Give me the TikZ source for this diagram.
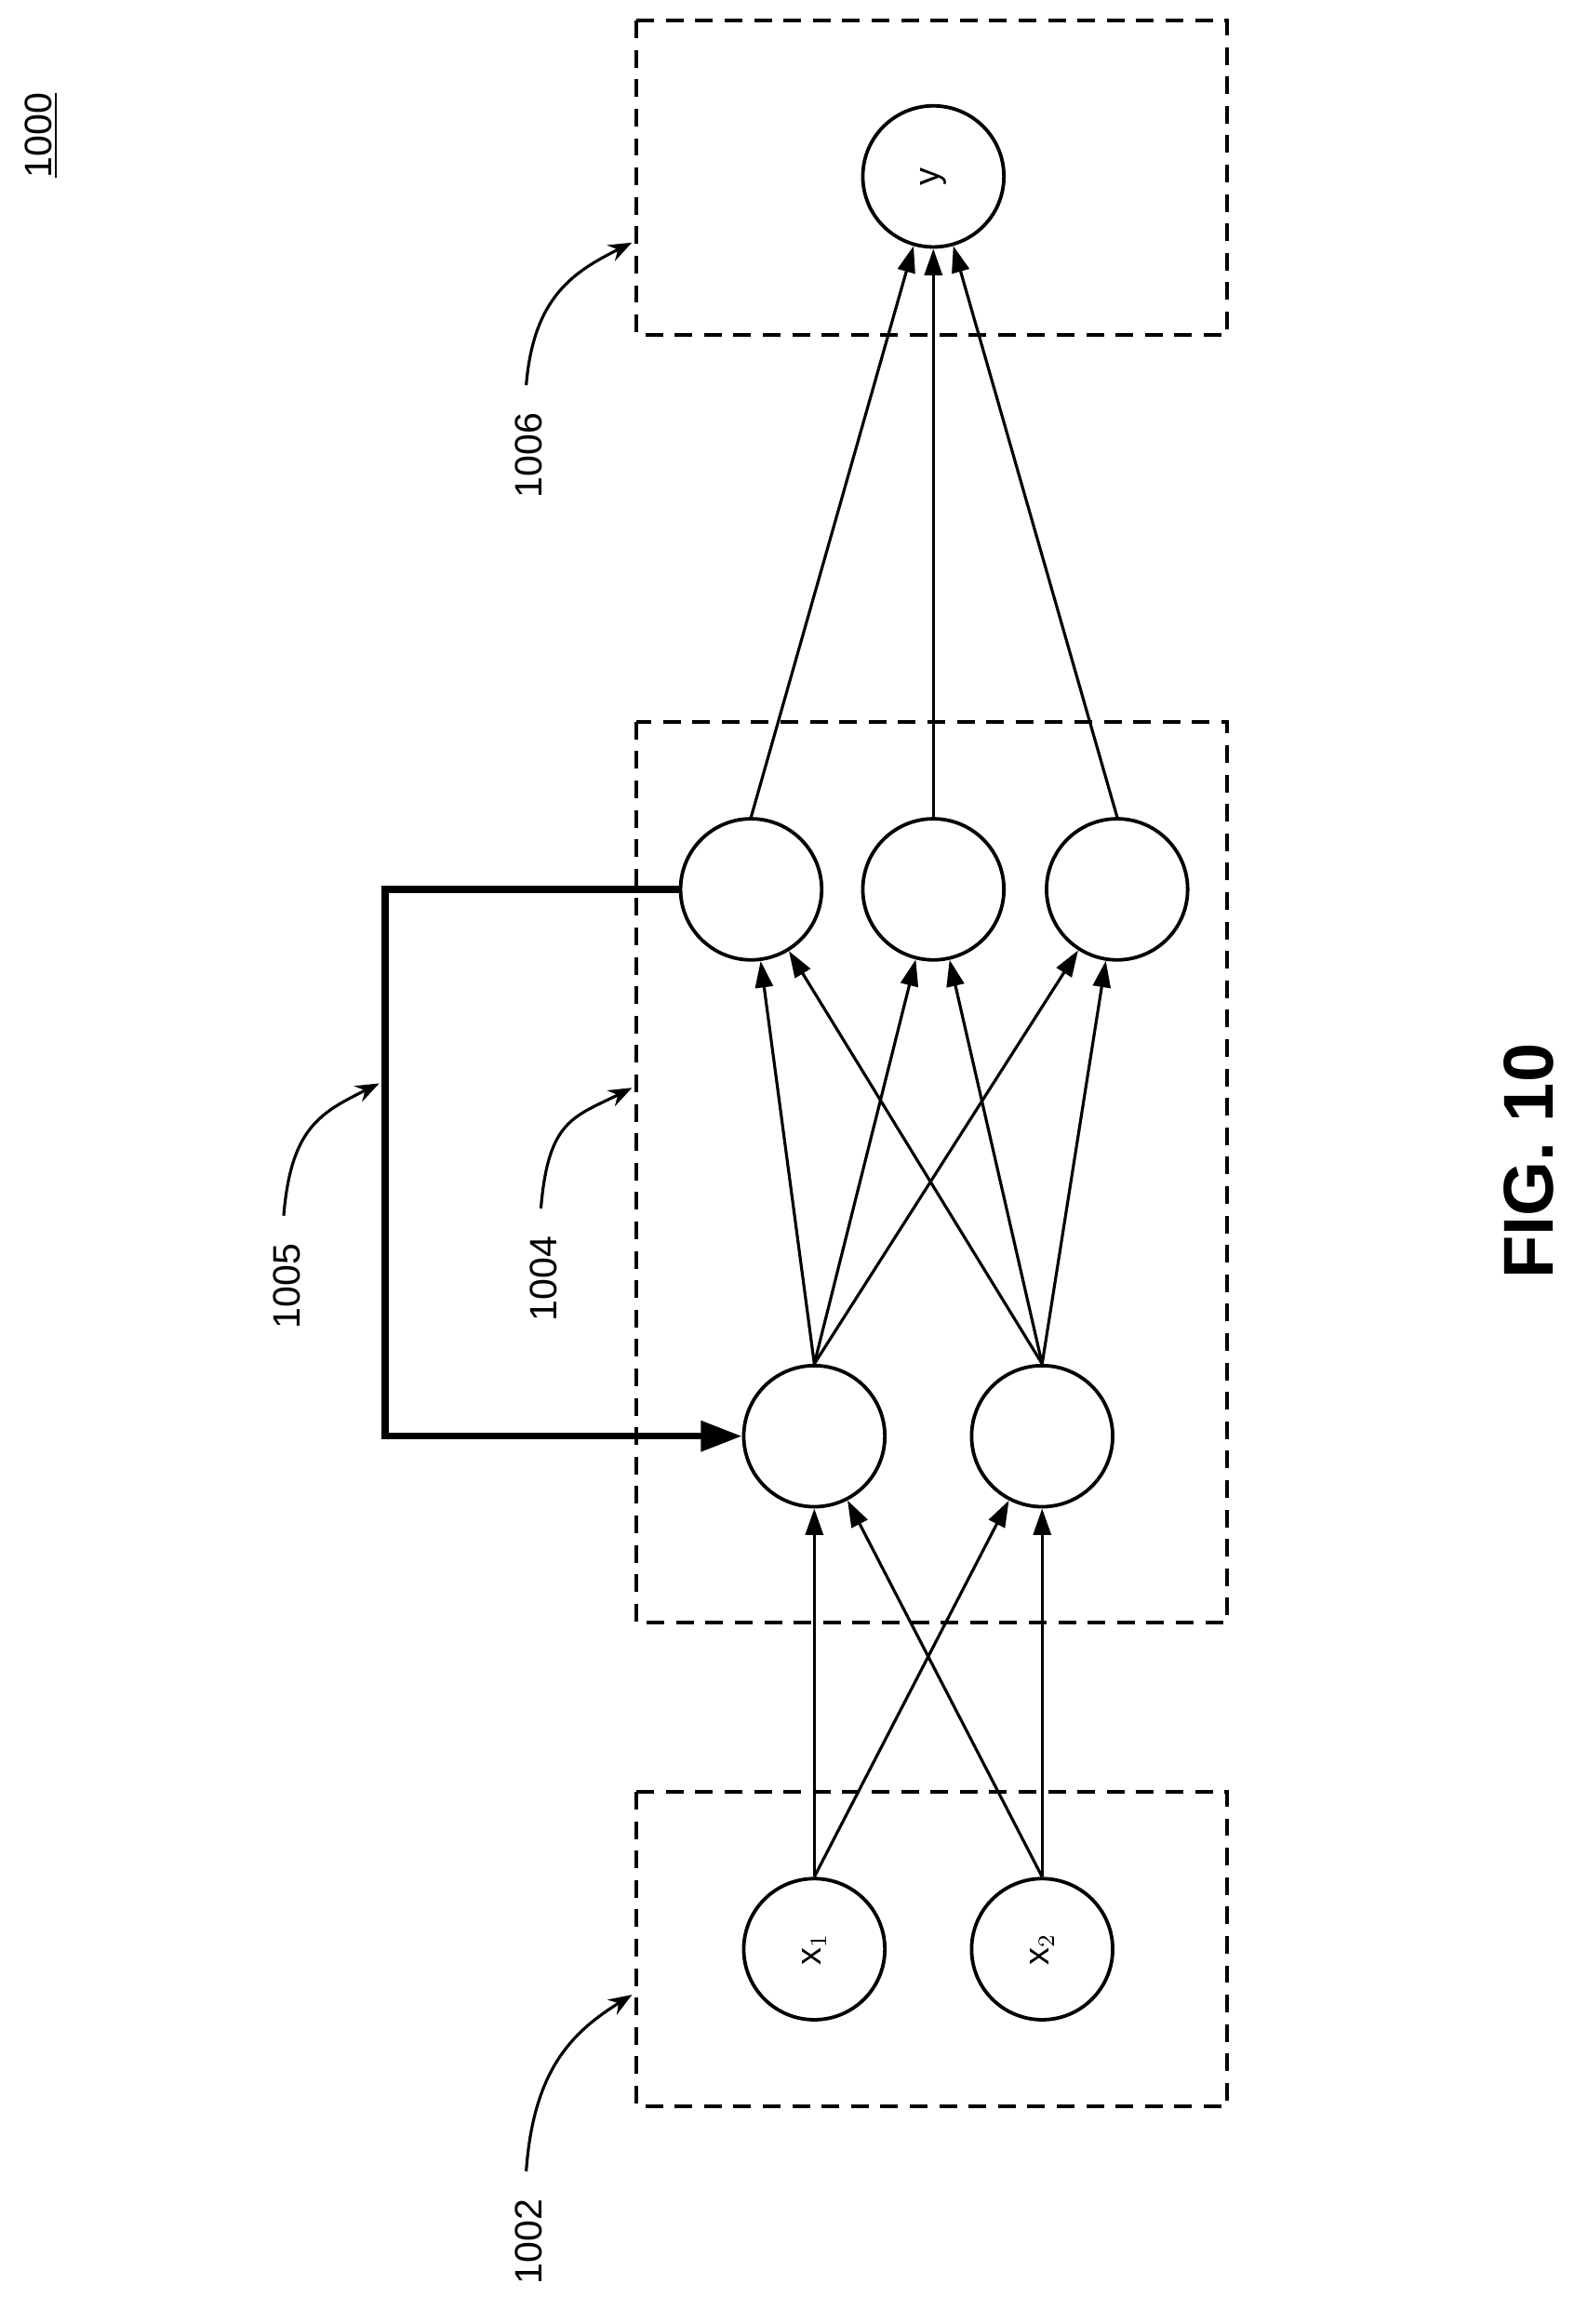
\documentclass[tikz,border=0pt]{standalone}
\usepackage{fontspec}
\setmainfont{Liberation Sans}
\usetikzlibrary{arrows.meta}
\begin{document}
\begin{tikzpicture}[x=0.5pt,y=-0.5pt,
  neuron/.style={circle,draw,line width=1.2pt,minimum size=48pt,inner sep=0pt,font=\fontsize{12}{14}\selectfont},
  box/.style={draw,dashed,line width=1.2pt,dash pattern=on 6pt off 4pt},
  conn/.style={line width=1pt,-{Triangle[length=9pt,width=6pt]}},
  lab/.style={rotate=90,font=\fontsize{13}{15}\selectfont},
  call/.style={line width=1pt,-{Stealth[length=8pt,width=6pt]}}]
\useasboundingbox (0,0) rectangle (1080,1581);
\draw[box] (433,14) rectangle (835,228);
\draw[box] (433,491) rectangle (835,1104);
\draw[box] (433,1219) rectangle (835,1433);
\node[neuron] (y) at (635,120) {\rotatebox{90}{y}};
\node[neuron] (ha) at (511,605) {};
\node[neuron] (hb) at (635,605) {};
\node[neuron] (hc) at (760,605) {};
\node[neuron] (ga) at (554,977) {};
\node[neuron] (gb) at (709,977) {};
\node[neuron] (x1) at (554,1326) {\rotatebox{90}{x$_1$}};
\node[neuron] (x2) at (709,1326) {\rotatebox{90}{x$_2$}};
\foreach \s in {x1,x2}{\foreach \t in {ga,gb}{\draw[conn] (\s.north) -- (\t);}}
\foreach \s in {ga,gb}{\foreach \t in {ha,hb,hc}{\draw[conn] (\s.north) -- (\t);}}
\foreach \s in {ha,hb,hc}{\draw[conn] (\s.north) -- (y);}
\coordinate (c1) at (262,605);
\coordinate (c2) at (262,977);
\draw[line width=2.4pt,-{Triangle[length=14pt,width=10pt]}] (ha.west) -- (c1) -- (c2) -- (ga.west);
\node[lab] (l1006) at (360,310) {1006};
\node[lab] (l1005) at (195,875) {1005};
\node[lab] (l1004) at (370,870) {1004};
\node[lab] (l1002) at (360,1525) {1002};
\node[lab] (l1000) at (28,92) {\underline{1000}};
\node[rotate=90,font=\bfseries\fontsize{24}{28}\selectfont] (fig) at (1040,790) {FIG. 10};
\coordinate (e1006) at (430,165);
\coordinate (e1004) at (430,740);
\coordinate (e1005) at (258,737);
\coordinate (e1002) at (430,1357);
\draw[call] (l1006.east) ++(-2,-12) .. controls +(5,-60) and +(-40,20) .. (e1006);
\draw[call] (l1004.east) ++(-2,-12) .. controls +(5,-60) and +(-40,20) .. (e1004);
\draw[call] (l1005.east) ++(-2,-12) .. controls +(5,-60) and +(-40,20) .. (e1005);
\draw[call] (l1002.east) ++(-2,-12) .. controls +(5,-70) and +(-40,25) .. (e1002);
\end{tikzpicture}
\end{document}
